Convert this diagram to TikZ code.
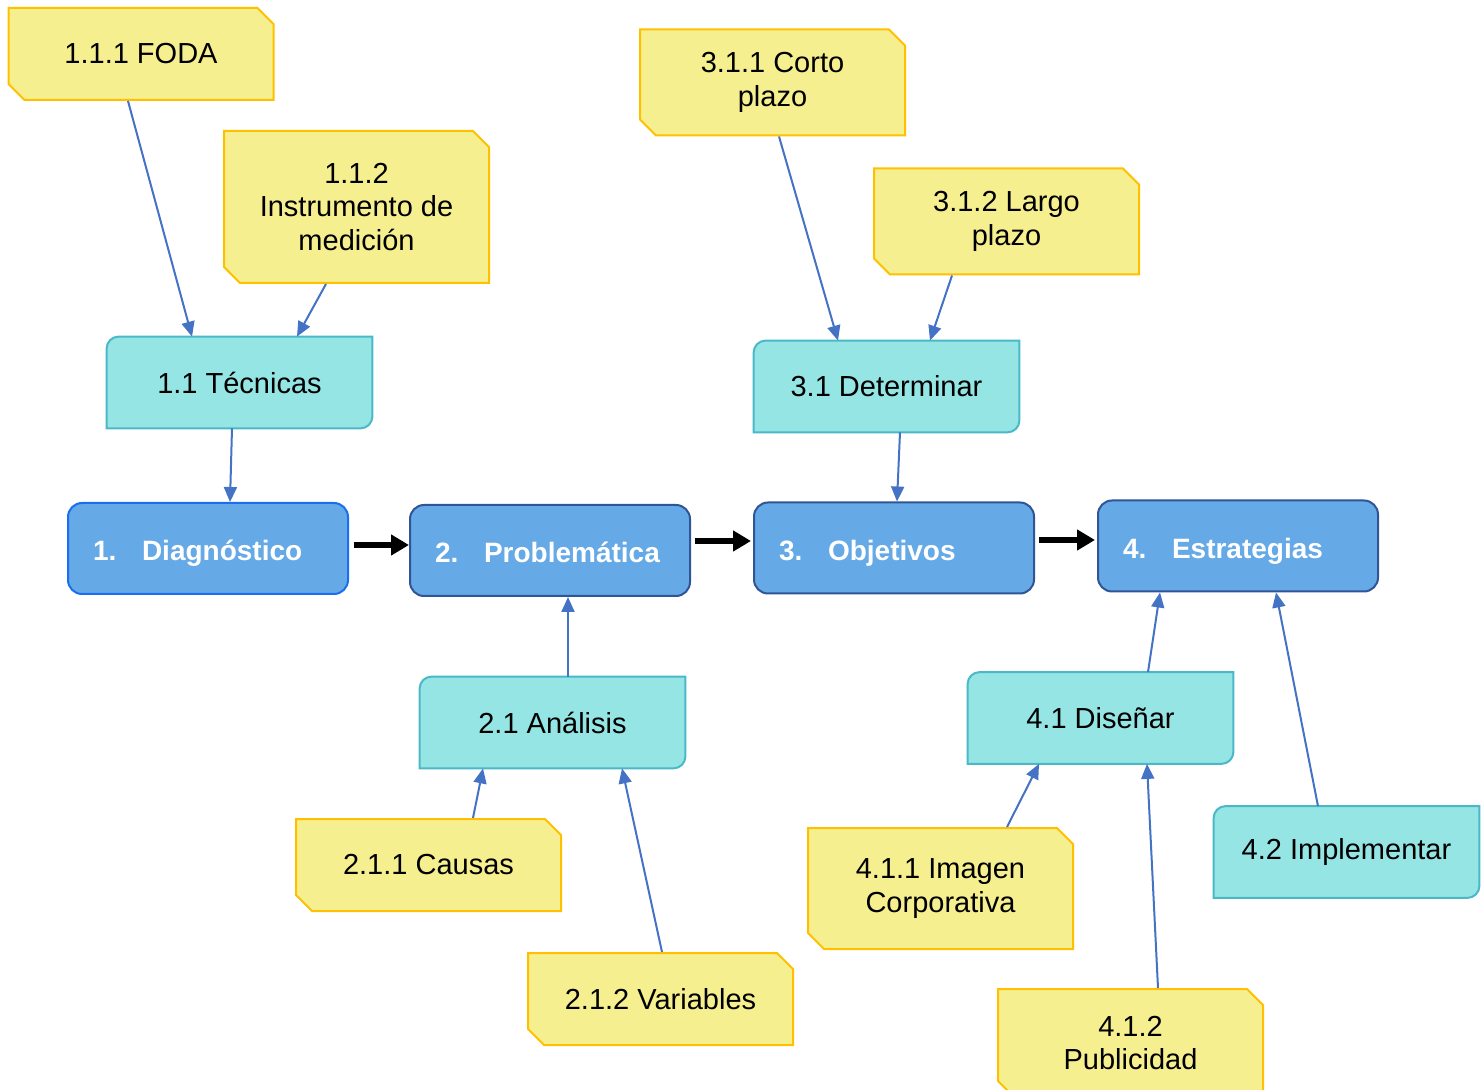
\documentclass[tikz,border=0pt]{standalone}
\usepackage{fontspec}
\setmainfont{Liberation Sans}
\usetikzlibrary{arrows.meta,shapes.misc,backgrounds,calc}
\definecolor{HojaFill}{HTML}{F6EF8F}
\definecolor{HojaLine}{HTML}{FFC000}
\definecolor{TareaFill}{HTML}{95E5E5}
\definecolor{TareaLine}{HTML}{4BB8C8}
\definecolor{FaseFill}{HTML}{65A9E6}
\definecolor{FaseLine}{HTML}{2F5597}
\definecolor{FaseLineA}{HTML}{1A6FF0}
\definecolor{Flecha}{HTML}{4472C4}

\begin{document}
\begin{tikzpicture}[x=0.5pt,y=0.5pt,font=\fontsize{14.5}{16.8}\selectfont,
  hoja/.style={chamfered rectangle,chamfered rectangle corners={north east,south west},chamfered rectangle xsep=4pt,chamfered rectangle ysep=4pt,draw=HojaLine,line width=1pt,fill=HojaFill,minimum width=132.5pt,align=center,inner sep=0pt},
  tarea/.style={minimum width=132.5pt,minimum height=45.5pt,align=center,inner sep=0pt},
  tareafondo/.style={draw=TareaLine,line width=1pt,fill=TareaFill},
  fase/.style={draw=FaseLine,line width=1pt,rounded corners=7pt,fill=FaseFill,minimum width=140pt,minimum height=45.5pt,text width=115pt,inner xsep=12.5pt,text height=14.5pt,text depth=2pt,align=left,text=white,font=\bfseries\fontsize{14}{16}\selectfont},
  flecha/.style={Flecha,line width=1pt,-{Triangle[length=7.5pt,width=6.5pt]}},
  paso/.style={black,line width=3pt,-{Triangle[length=9pt,width=10pt]}}]
  \useasboundingbox (0,0) rectangle (1484,-1090);
  % fases
  \node[fase,draw=FaseLineA] (dia) at (208,-548.5) {\makebox[24.5pt][l]{1.}Diagnóstico};
  \node[fase] (pro) at (550,-550.5) {\makebox[24.5pt][l]{2.}Problemática};
  \node[fase] (obj) at (894,-548) {\makebox[24.5pt][l]{3.}Objetivos};
  \node[fase] (est) at (1238,-546) {\makebox[24.5pt][l]{4.}Estrategias};
  % tareas
  \node[tarea] (tec) at (239.5,-382.5) {1.1 Técnicas};
  \node[tarea] (det) at (886.5,-386.5) {3.1 Determinar};
  \node[tarea] (ana) at (552.5,-722.5) {2.1 Análisis};
  \node[tarea] (dis) at (1100.5,-718) {4.1 Diseñar};
  \node[tarea] (imp) at (1346.5,-852) {4.2 Implementar};
  \begin{scope}[on background layer]
    \foreach \n in {tec,det,ana,dis,imp}{
      \filldraw[tareafondo] (\n.south west) -- ([yshift=-6pt]\n.north west) arc[start angle=180,end angle=90,radius=6pt] -- (\n.north east) -- ([yshift=6pt]\n.south east) arc[start angle=0,end angle=-90,radius=6pt] -- cycle;}
  \end{scope}
  % hojas
  \node[hoja,minimum height=46pt] (fod) at (141,-54) {1.1.1 FODA};
  \node[hoja,minimum height=76pt] (ins) at (356.5,-207) {1.1.2\\Instrumento de\\medición};
  \node[hoja,minimum height=53pt] (cor) at (772.5,-82.5) {3.1.1 Corto\\plazo};
  \node[hoja,minimum height=53pt] (lar) at (1006.5,-221.5) {3.1.2 Largo\\plazo};
  \node[hoja,minimum height=46pt] (cau) at (428.5,-865) {2.1.1 Causas};
  \node[hoja,minimum height=46pt] (var) at (660.5,-999) {2.1.2 Variables};
  \node[hoja,minimum height=60.5pt] (img) at (940.5,-888.5) {4.1.1 Imagen\\Corporativa};
  \node[hoja,minimum height=54pt] (pub) at (1130.5,-1043) {4.1.2\\Publicidad};
  % conectores
  \draw[flecha] ($(fod.south)+(-13,0)$) -- ($(tec.north)+(-47.5,0)$);
  \draw[flecha] ($(ins.south)+(-30.5,0)$) -- ($(tec.north)+(57.5,0)$);
  \draw[flecha] ($(tec.south)+(-7.5,0)$) -- ($(dia.north)+(22,0)$);
  \draw[flecha] ($(cor.south)+(6.5,0)$) -- ($(det.north)+(-48.5,0)$);
  \draw[flecha] ($(lar.south)+(-54.5,0)$) -- ($(det.north)+(43.5,0)$);
  \draw[flecha] ($(det.south)+(13.5,0)$) -- ($(obj.north)+(3,0)$);
  \draw[flecha] ($(ana.north)+(15.5,0)$) -- ($(pro.south)+(18,0)$);
  \draw[flecha] ($(cau.north)+(44.5,0)$) -- ($(ana.south)+(-69.5,0)$);
  \draw[flecha] ($(var.north)+(1.5,0)$) -- ($(ana.south)+(69.5,0)$);
  \draw[flecha] ($(dis.north)+(47.5,0)$) -- ($(est.south)+(-78,0)$);
  \draw[flecha] ($(imp.north)+(-28.5,0)$) -- ($(est.south)+(38,0)$);
  \draw[flecha] ($(img.north)+(66.5,0)$) -- ($(dis.south)+(-61.5,0)$);
  \draw[flecha] ($(pub.north)+(27.5,0)$) -- ($(dis.south)+(46.5,0)$);
  \draw[paso] ($(dia.east)+(5,3.5)$) -- ($(pro.west |- dia.east)+(0,3.5)$);
  \draw[paso] ($(pro.east)+(4,9.5)$) -- ($(obj.west |- pro.east)+(-2,9.5)$);
  \draw[paso] ($(obj.east)+(4,8)$) -- ($(est.west |- obj.east)+(-2,8)$);
\end{tikzpicture}
\end{document}
